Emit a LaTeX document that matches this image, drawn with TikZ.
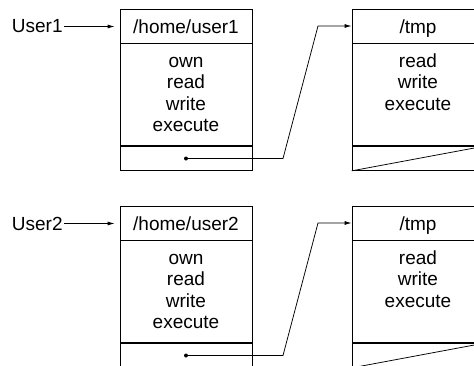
\documentclass[tikz,border=0pt]{standalone}
\usepackage{fontspec}
\setmainfont{Liberation Sans}
\usepackage{tikz}
\usetikzlibrary{arrows.meta,positioning}

\begin{document}
\begin{tikzpicture}[>={Latex[length=7pt,width=4pt]},x=1pt,y=1pt,line width=0.75pt,
		every node/.style={font=\fontsize{19}{21.3}\selectfont},
		part/.style={draw,minimum width=132pt,inner sep=0pt},
		head/.style={part,minimum height=34pt,text height=14pt,text depth=0pt},
		body/.style={part,minimum height=102pt},
		foot/.style={part,minimum height=24pt},
		rights/.style={anchor=north,inner sep=0pt,align=center}]
			% Page size, the right and bottom boxes are cut off
			\useasboundingbox (0,0) rectangle (474,-365);
			\clip (0,0) rectangle (474,-365);

			\foreach \i/\y in {1/0,2/197} {
				% Home directory of the user
				\node[head] (hd\i) at (186,-26-\y) {/home/user\i};
				\node[body,below=0pt of hd\i] (bd\i) {};
				\node[foot,below=0pt of bd\i] (ft\i) {};
				\node[rights] (br\i) at ([yshift=-9pt]bd\i.north) {\strut own\\read\\write\\execute};

				% Shared /tmp directory
				\node[head] (th\i) at (418,-26-\y) {/tmp};
				\node[body,below=0pt of th\i] (tb\i) {};
				\node[foot,below=0pt of tb\i] (tf\i) {};
				\node[rights] (tr\i) at ([yshift=-9pt]tb\i.north) {\strut read\\write\\execute};
				\draw (tf\i.south west) -- (tf\i.north east);

				% User and links
				\node[anchor=east,inner sep=0pt] (us\i) at (63,-26.5-\y) {User\i};
				\draw[->,shorten <=1pt,shorten >=5pt] (us\i.east) -- (us\i.east -| hd\i.west);
				\fill (ft\i.center) circle (2pt);
				\draw[->] (ft\i.center) -- ++(97,0) -- (318,-26-\y) -- (th\i.west);
			}
		\end{tikzpicture}
\end{document}
